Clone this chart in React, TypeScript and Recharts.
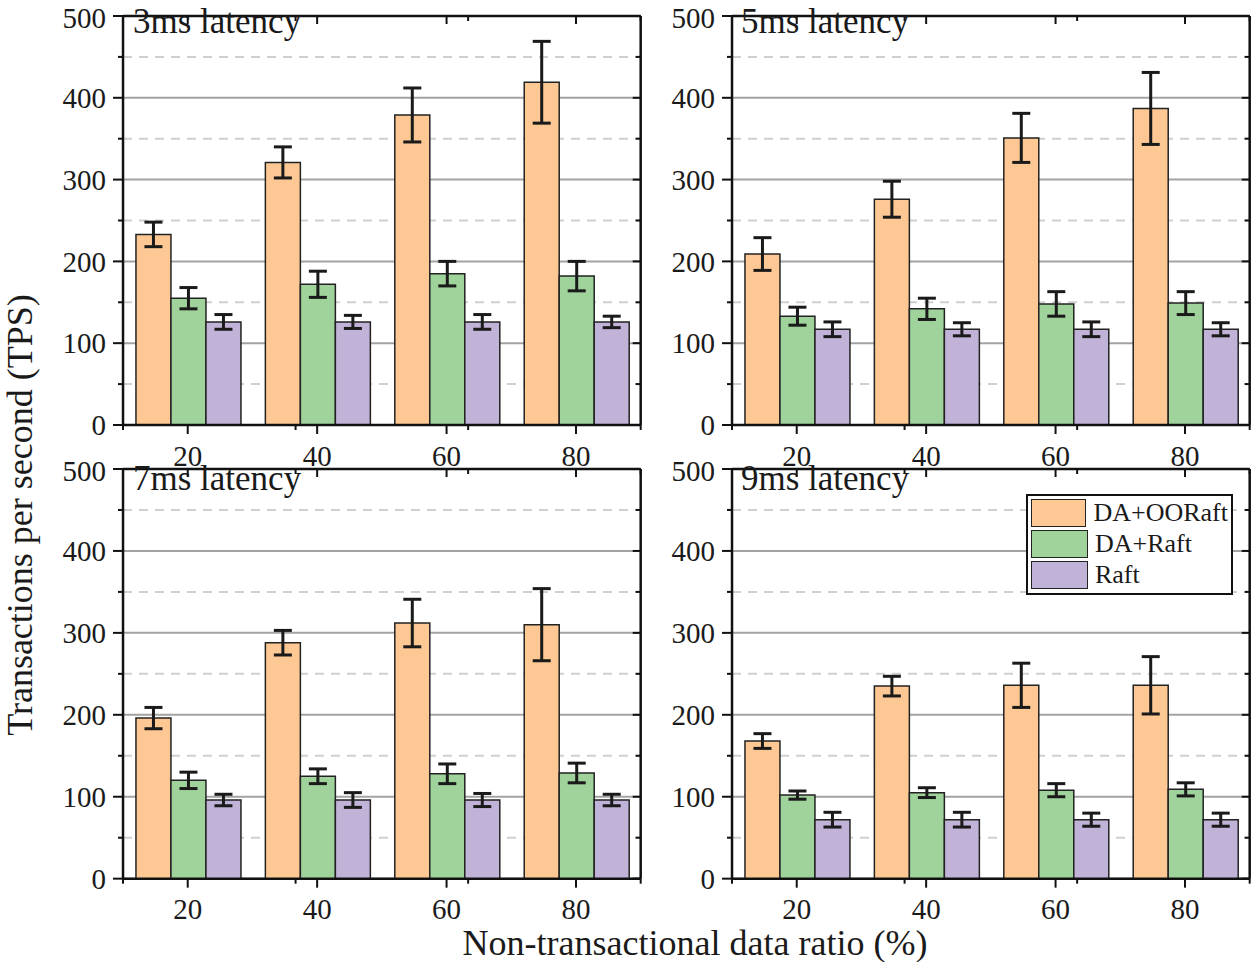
import React from "react";
import {
  BarChart,
  Bar,
  XAxis,
  YAxis,
  CartesianGrid,
  ErrorBar,
  Legend,
} from "recharts";

const ratios = ["20", "40", "60", "80"];
const panelTitles = ["3ms latency", "5ms latency", "7ms latency", "9ms latency"];
const seriesNames = ["DA+OORaft", "DA+Raft", "Raft"];

const ooraft3 = [233, 321, 379, 419];
const ooraftErr3 = [15, 19, 33, 50];
const daraft3 = [155, 172, 185, 182];
const daraftErr3 = [13, 16, 15, 18];
const raft3 = [126, 126, 126, 126];
const raftErr3 = [9, 8, 9, 7];

const ooraft5 = [209, 276, 351, 387];
const ooraftErr5 = [20, 22, 30, 44];
const daraft5 = [133, 142, 148, 149];
const daraftErr5 = [11, 13, 15, 14];
const raft5 = [117, 117, 117, 117];
const raftErr5 = [9, 8, 9, 8];

const ooraft7 = [196, 288, 312, 310];
const ooraftErr7 = [13, 15, 29, 44];
const daraft7 = [120, 125, 128, 129];
const daraftErr7 = [10, 9, 12, 12];
const raft7 = [96, 96, 96, 96];
const raftErr7 = [7, 9, 8, 7];

const ooraft9 = [168, 235, 236, 236];
const ooraftErr9 = [9, 12, 27, 35];
const daraft9 = [102, 105, 108, 109];
const daraftErr9 = [5, 6, 8, 8];
const raft9 = [72, 72, 72, 72];
const raftErr9 = [9, 9, 8, 8];

const majorTicks = [0, 100, 200, 300, 400, 500];
const minorTicks = [50, 150, 250, 350, 450];
const edgeTicks = [0, 1, 2, 3, 4];

const colors = ["#FDC893", "#9FD39B", "#C1B2D7"];
const FONT = "'Liberation Serif', 'Times New Roman', serif";
const INK = "#1a1a1a";
// axes need a positive size to render; keep them thin so they don't shift the plot
const THIN = 0.01;
const noLabel = () => "";

function buildRows(
  oo: number[], ooErr: number[],
  da: number[], daErr: number[],
  rf: number[], rfErr: number[]
) {
  return ratios.map((ratio, i) => ({
    ratio,
    oo: oo[i], ooErr: ooErr[i],
    da: da[i], daErr: daErr[i],
    rf: rf[i], rfErr: rfErr[i],
  }));
}

const panels = [
  buildRows(ooraft3, ooraftErr3, daraft3, daraftErr3, raft3, raftErr3),
  buildRows(ooraft5, ooraftErr5, daraft5, daraftErr5, raft5, raftErr5),
  buildRows(ooraft7, ooraftErr7, daraft7, daraftErr7, raft7, raftErr7),
  buildRows(ooraft9, ooraftErr9, daraft9, daraftErr9, raft9, raftErr9),
];

const axisLine = { stroke: "#111", strokeWidth: 2.5 };
const tickLine = { stroke: "#111", strokeWidth: 2 };
const hiddenTick = { fontSize: 1, fill: "none" };

function LegendBox({ payload }: any) {
  return (
    <div
      style={{
        border: "2.5px solid #111",
        background: "#fff",
        padding: "2px 3px",
        fontFamily: FONT,
        fontSize: 26,
        color: INK,
        width: 207,
        boxSizing: "border-box",
      }}
    >
      {(payload || []).map((p: any) => (
        <div key={p.value} style={{ display: "flex", alignItems: "center", height: 31 }}>
          <span
            style={{
              display: "inline-block",
              width: 57,
              height: 28,
              background: p.color,
              border: "1.5px solid #222",
              boxSizing: "border-box",
              marginRight: 7,
            }}
          />
          <span style={{ lineHeight: "28px" }}>{p.value}</span>
        </div>
      ))}
    </div>
  );
}

function Panel({
  data,
  left,
  top,
  plotHeight,
  showLegend,
}: {
  data: any[];
  left: number;
  top: number;
  plotHeight: number;
  showLegend?: boolean;
}) {
  const m = { top: 15, right: 10, bottom: 60, left: 110 };
  const width = m.left + 517.7 + m.right;
  const height = m.top + plotHeight + m.bottom;
  return (
    <div style={{ position: "absolute", left, top }}>
      <BarChart
        width={width}
        height={height}
        data={data}
        margin={m}
        barCategoryGap="10%"
        barGap={0}
      >
        <CartesianGrid
          yAxisId="vm"
          vertical={false}
          stroke="#cfcfcf"
          strokeWidth={2}
          strokeDasharray="9 7"
        />
        <CartesianGrid
          yAxisId="v"
          vertical={false}
          stroke="#a3a3a3"
          strokeWidth={2}
        />
        <XAxis
          dataKey="ratio"
          height={THIN}
          tickSize={9}
          tickMargin={11}
          axisLine={axisLine}
          tickLine={tickLine}
          tick={{ fontSize: 29, fill: INK, fontFamily: FONT }}
        />
        <XAxis
          xAxisId="edge"
          type="number"
          domain={[0, 4]}
          ticks={edgeTicks}
          allowDataOverflow
          height={THIN}
          tickSize={5}
          tick={hiddenTick}
          tickFormatter={noLabel}
          axisLine={false}
          tickLine={tickLine}
        />
        <XAxis
          xAxisId="top"
          dataKey="ratio"
          orientation="top"
          mirror
          height={THIN}
          tickSize={8}
          tick={hiddenTick}
          tickFormatter={noLabel}
          axisLine={axisLine}
          tickLine={tickLine}
        />
        <XAxis
          xAxisId="topedge"
          type="number"
          orientation="top"
          mirror
          domain={[0, 4]}
          ticks={edgeTicks}
          allowDataOverflow
          height={THIN}
          tickSize={5}
          tick={hiddenTick}
          tickFormatter={noLabel}
          axisLine={false}
          tickLine={tickLine}
        />
        <YAxis
          yAxisId="v"
          domain={[0, 500]}
          ticks={majorTicks}
          allowDataOverflow
          width={THIN}
          tickSize={10}
          tickMargin={7}
          axisLine={axisLine}
          tickLine={tickLine}
          tick={{ fontSize: 29, fill: INK, fontFamily: FONT }}
        />
        <YAxis
          yAxisId="vm"
          domain={[0, 500]}
          ticks={minorTicks}
          allowDataOverflow
          width={THIN}
          tickSize={5}
          tick={hiddenTick}
          tickFormatter={noLabel}
          axisLine={false}
          tickLine={tickLine}
        />
        <YAxis
          yAxisId="vr"
          orientation="right"
          mirror
          domain={[0, 500]}
          ticks={majorTicks}
          allowDataOverflow
          width={THIN}
          tickSize={8}
          tick={hiddenTick}
          tickFormatter={noLabel}
          axisLine={axisLine}
          tickLine={tickLine}
        />
        <YAxis
          yAxisId="vrm"
          orientation="right"
          mirror
          domain={[0, 500]}
          ticks={minorTicks}
          allowDataOverflow
          width={THIN}
          tickSize={5}
          tick={hiddenTick}
          tickFormatter={noLabel}
          axisLine={false}
          tickLine={tickLine}
        />
        <Bar yAxisId="v" dataKey="oo" name={seriesNames[0]} fill={colors[0]} stroke="#222" strokeWidth={1.5} isAnimationActive={false}>
          <ErrorBar dataKey="ooErr" width={9} stroke="#1a1a1a" strokeWidth={3} isAnimationActive={false} />
        </Bar>
        <Bar yAxisId="v" dataKey="da" name={seriesNames[1]} fill={colors[1]} stroke="#222" strokeWidth={1.5} isAnimationActive={false}>
          <ErrorBar dataKey="daErr" width={9} stroke="#1a1a1a" strokeWidth={3} isAnimationActive={false} />
        </Bar>
        <Bar yAxisId="v" dataKey="rf" name={seriesNames[2]} fill={colors[2]} stroke="#222" strokeWidth={1.5} isAnimationActive={false}>
          <ErrorBar dataKey="rfErr" width={9} stroke="#1a1a1a" strokeWidth={3} isAnimationActive={false} />
        </Bar>
        {showLegend && (
          <Legend
            layout="vertical"
            align="center"
            verticalAlign="middle"
            content={<LegendBox />}
            wrapperStyle={{ left: 404.3, top: 39.7, width: 207 }}
          />
        )}
      </BarChart>
    </div>
  );
}

export default function App() {
  return (
    <div
      style={{
        position: "absolute",
        left: 0,
        top: 0,
        width: 1251,
        height: 962,
        background: "#fff",
        overflow: "hidden",
      }}
    >
      <Panel data={panels[0]} left={13.3} top={0.5} plotHeight={409} />
      <Panel data={panels[1]} left={621.7} top={0.5} plotHeight={409} />
      <Panel data={panels[2]} left={13.3} top={454.3} plotHeight={409.7} />
      <Panel data={panels[3]} left={621.7} top={454.3} plotHeight={409.7} showLegend />
      <svg
        width={1251}
        height={962}
        style={{ position: "absolute", left: 0, top: 0, pointerEvents: "none" }}
        fontFamily={FONT}
        fill={INK}
      >
        <text x={133} y={33} fontSize={35}>{panelTitles[0]}</text>
        <text x={741} y={33} fontSize={35}>{panelTitles[1]}</text>
        <text x={133} y={490} fontSize={35}>{panelTitles[2]}</text>
        <text x={741} y={490} fontSize={35}>{panelTitles[3]}</text>
        <text x={695} y={955} fontSize={36} textAnchor="middle">
          Non-transactional data ratio (%)
        </text>
        <text x={32} y={515} fontSize={36} textAnchor="middle" transform="rotate(-90 32 515)">
          Transactions per second (TPS)
        </text>
      </svg>
    </div>
  );
}
